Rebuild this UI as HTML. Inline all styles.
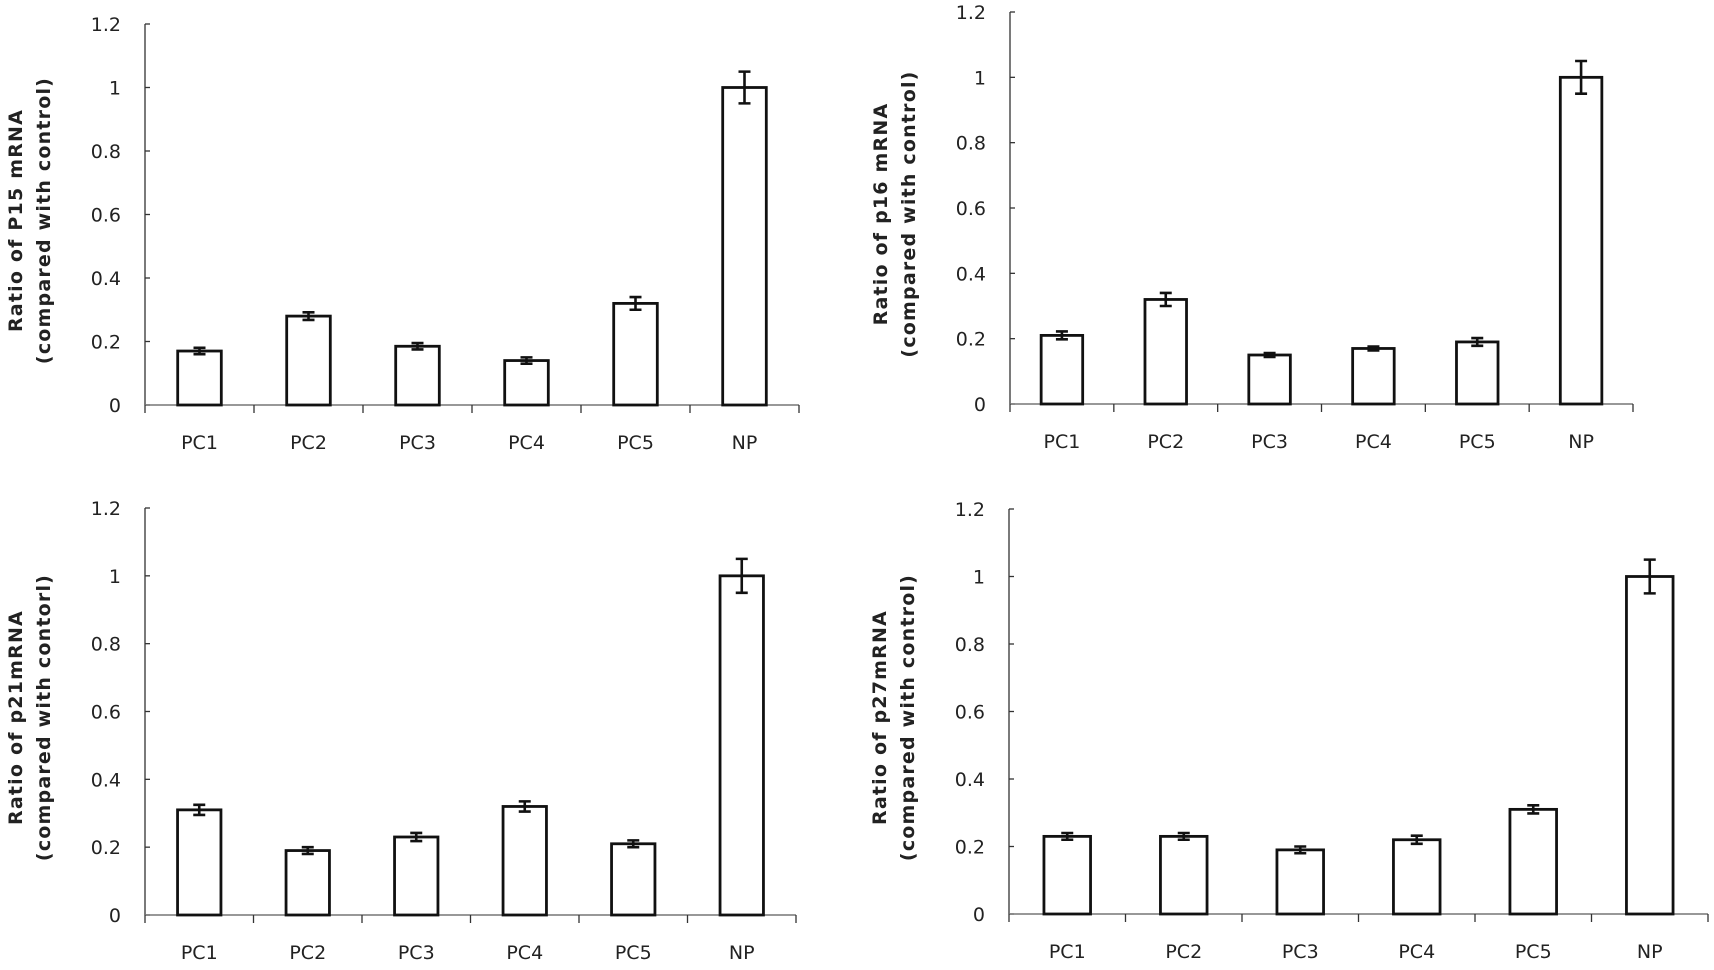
<!DOCTYPE html>
<html><head><meta charset="utf-8"><style>
html,body{margin:0;padding:0;background:#fff;width:1714px;height:970px;overflow:hidden}
svg{display:block}
text{font-family:"DejaVu Sans","Liberation Sans",sans-serif;fill:#222}
</style></head><body>
<svg id="fig" width="1714" height="970"></svg>
<script>
const categories = ["PC1","PC2","PC3","PC4","PC5","NP"];
const yTicks = [0,0.2,0.4,0.6,0.8,1,1.2];
const yTickLabels = ["0","0.2","0.4","0.6","0.8","1","1.2"];
const p15Values = [0.17,0.28,0.185,0.14,0.32,1.0];
const p15Errors = [0.01,0.012,0.01,0.01,0.02,0.05];
const p16Values = [0.21,0.32,0.15,0.17,0.19,1.0];
const p16Errors = [0.012,0.02,0.006,0.006,0.012,0.05];
const p21Values = [0.31,0.19,0.23,0.32,0.21,1.0];
const p21Errors = [0.015,0.01,0.012,0.015,0.01,0.05];
const p27Values = [0.23,0.23,0.19,0.22,0.31,1.0];
const p27Errors = [0.01,0.01,0.01,0.012,0.012,0.05];

const NS="http://www.w3.org/2000/svg";
const svg=document.getElementById('fig');
function mk(tag,attrs,parent){const e=document.createElementNS(NS,tag);for(const k in attrs)e.setAttribute(k,attrs[k]);(parent||svg).appendChild(e);return e;}

const panels=[
 {name:'p15',vals:p15Values,errs:p15Errors,x0:145,x1:799,y0:405,yT:24,t1:'Ratio of P15 mRNA',t2:'(compared with control)'},
 {name:'p16',vals:p16Values,errs:p16Errors,x0:1010,x1:1633,y0:404,yT:12,t1:'Ratio of p16 mRNA',t2:'(compared with control)'},
 {name:'p21',vals:p21Values,errs:p21Errors,x0:145,x1:796,y0:915,yT:508,t1:'Ratio of p21mRNA',t2:'(compared with contorl)'},
 {name:'p27',vals:p27Values,errs:p27Errors,x0:1009,x1:1708,y0:914,yT:509,t1:'Ratio of p27mRNA',t2:'(compared with control)'}
];

panels.forEach(p=>{
  const g=mk('g',{});
  
  
  const yS=v=>p.y0-(v/1.2)*(p.y0-p.yT);
  const cw=(p.x1-p.x0)/categories.length;
  const xS=i=>p.x0+cw*(i+0.5);
  const ya=mk('line',{x1:p.x0,y1:p.yT,x2:p.x0,y2:p.y0,stroke:'#333','stroke-width':1.3},g);
  
  
  yTicks.forEach((t,i)=>{
    mk('line',{x1:p.x0,y1:yS(t),x2:p.x0+5,y2:yS(t),stroke:'#333','stroke-width':1.3},g);
    const tl=mk('text',{x:p.x0-24,y:yS(t)+7,'text-anchor':'end','font-size':19},g);
    tl.textContent=yTickLabels[i];
    
    
  });
  const xa=mk('line',{x1:p.x0,y1:p.y0,x2:p.x1,y2:p.y0,stroke:'#777','stroke-width':1.6},g);
  
  
  for(let i=0;i<=categories.length;i++){
    mk('line',{x1:p.x0+cw*i,y1:p.y0,x2:p.x0+cw*i,y2:p.y0+8,stroke:'#333','stroke-width':1.3},g);
  }
  categories.forEach((c,i)=>{
    const bw=cw*0.4, v=p.vals[i], e=p.errs[i], cx=xS(i);
    const b=mk('rect',{x:cx-bw/2,y:yS(v),width:bw,height:p.y0-yS(v),fill:'#fff',stroke:'#111','stroke-width':2.8},g);
    
    
    const eb=mk('path',{d:`M${cx},${yS(v+e)}V${yS(v-e)}M${cx-6},${yS(v+e)}H${cx+6}M${cx-6},${yS(v-e)}H${cx+6}`,stroke:'#111','stroke-width':2.6,fill:'none'},g);
    
    
    const xl=mk('text',{x:cx,y:p.y0+44,'text-anchor':'middle','font-size':19},g);
    xl.textContent=c;
    
    
  });
  const cy=(p.y0+p.yT)/2+6;
  const tx=p.x0-123;
  const t=mk('text',{transform:`translate(${tx},${cy}) rotate(-90)`,'text-anchor':'middle','font-size':19,'font-weight':'bold','letter-spacing':'1.2'},g);
  
  
  const s1=mk('tspan',{x:0,y:0},t); s1.textContent=p.t1;
  const s2=mk('tspan',{x:0,y:28},t); s2.textContent=p.t2;
});
</script>
</body></html>
